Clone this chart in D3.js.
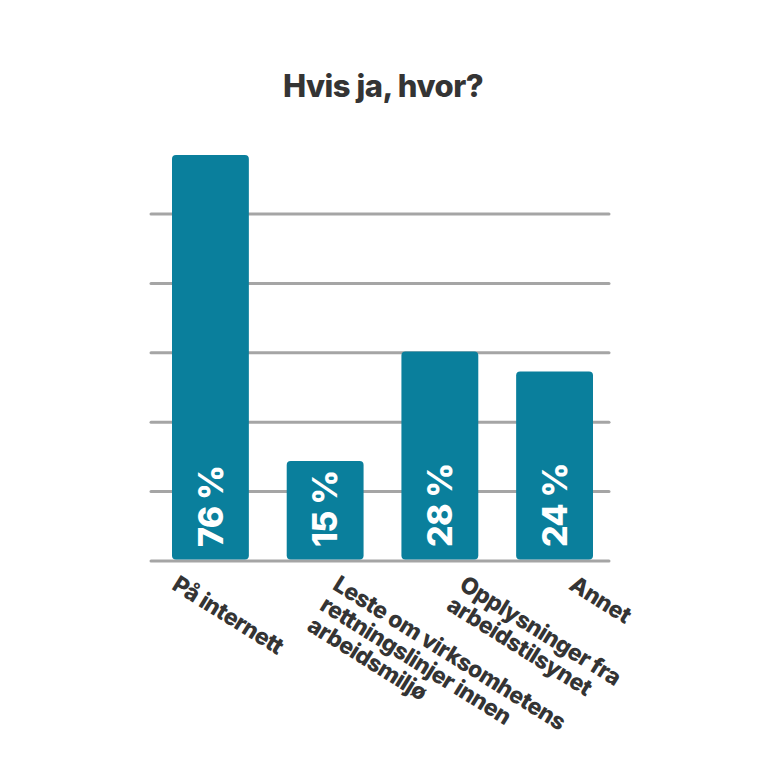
<!DOCTYPE html>
<html>
<head>
<meta charset="utf-8">
<script src="https://cdn.jsdelivr.net/npm/d3@7/dist/d3.min.js"></script>
<style>
  html, body { margin: 0; padding: 0; background: #fff; }
  svg { display: block; }
  text { font-family: Inter, Roboto, "Noto Sans", sans-serif; font-weight: 800; }
</style>
</head>
<body>
<div id="chart"></div>
<script>
'use strict';

// categories (multi-line labels) and the printed values
const categories = [
    ['På internett'],
    ['Leste om virksomhetens', 'rettningslinjer innen', 'arbeidsmiljø'],
    ['Opplysninger fra', 'arbeidstilsynet'],
    ['Annet']
];
const values = [76, 15, 28, 24];
// bar heights as read against the gridlines (the source bars are not to scale)
const barHeights = [58.5, 14.4, 30.2, 27.3];
const gridTicks = [0, 10, 20, 30, 40, 50];
const title = 'Hvis ja, hvor?';

const width = 770;
const height = 770;
const teal = '#0a7f9c';
const dark = '#343434';
const grey = '#a5a5a5';

const svg = d3.select('#chart').append('svg')
    .attr('width', width)
    .attr('height', height);

const x = d3.scaleBand()
    .domain(d3.range(values.length))
    .range([172, 593])
    .paddingInner(0.33)
    .paddingOuter(0);

const y = d3.scaleLinear()
    .domain([0, 50])
    .range([561, 214]);

// title
svg.append('text')
    .attr('x', 383)
    .attr('y', 97)
    .attr('text-anchor', 'middle')
    .attr('font-size', 31)
    .attr('letter-spacing', -0.5)
    .attr('fill', dark)
    .text(title);

// gridlines
svg.append('g')
    .selectAll('line')
    .data(gridTicks)
    .join('line')
    .attr('x1', 151)
    .attr('x2', 609)
    .attr('y1', d => y(d))
    .attr('y2', d => y(d))
    .attr('stroke', grey)
    .attr('stroke-width', 3)
    .attr('stroke-linecap', 'round');

// bars
svg.append('g')
    .selectAll('rect')
    .data(barHeights)
    .join('rect')
    .attr('x', (d, i) => x(i))
    .attr('y', d => y(d))
    .attr('width', x.bandwidth())
    .attr('height', d => y(0) - y(d) - 1.5)
    .attr('rx', 4)
    .attr('fill', teal);

// value labels, rotated inside the bars
svg.append('g')
    .selectAll('text')
    .data(values)
    .join('text')
    .attr('transform', (d, i) => `translate(${x(i) + x.bandwidth() / 2 + 0},${y(0) - 14}) rotate(-90)`)
    .attr('dy', '0.36em')
    .attr('font-size', 34)
    .attr('letter-spacing', -0.8)
    .attr('fill', '#fff')
    .text(d => d + ' %');

// category labels, slanted
const labelDx = [-30, 16, 28, 23];
const cats = svg.append('g')
    .selectAll('text')
    .data(categories)
    .join('text')
    .attr('transform', (d, i) => `translate(${x(i) + x.bandwidth() / 2 + labelDx[i]},${573}) rotate(32)`)
    .attr('font-size', 23)
    .attr('letter-spacing', -0.5)
    .attr('fill', dark);

cats.selectAll('tspan')
    .data(d => d)
    .join('tspan')
    .attr('x', 0)
    .attr('dy', (d, j) => j === 0 ? '0.8em' : '1.05em')
    .text(d => d);
</script>
</body>
</html>
